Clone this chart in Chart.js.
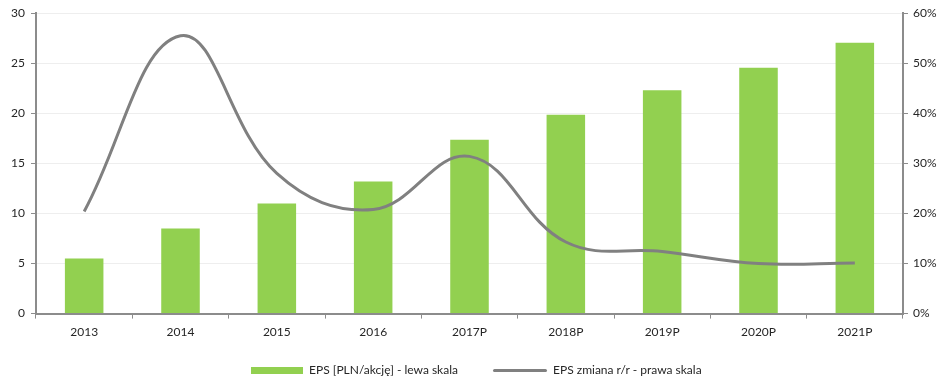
<!DOCTYPE html>
<html>
<head>
<meta charset="utf-8">
<script src="https://cdn.jsdelivr.net/npm/chart.js@4.4.1/dist/chart.umd.min.js"></script>
<style>
  body { margin: 0; background: #fff; }
  #wrap { position: relative; width: 937px; height: 380px; }
  #legend { position: absolute; left: 0; top: 362px; width: 937px; height: 18px;
            font-family: Lato, "Open Sans", sans-serif; font-size: 12px; color: #262626; }
  .item { position: absolute; top: 0; white-space: nowrap; }
  .sw { position: absolute; }
</style>
</head>
<body>
<div id="wrap">
  <canvas id="epsChart" width="937" height="380"></canvas>
  <div id="legend"></div>
</div>
<script>
// Data
const years = ['2013', '2014', '2015', '2016', '2017P', '2018P', '2019P', '2020P', '2021P'];
const epsValues = [5.5, 8.5, 11.0, 13.2, 17.35, 19.85, 22.3, 24.55, 27.05];
const epsChange = [20.4, 55.5, 28.0, 20.8, 31.4, 14.3, 12.4, 10.0, 10.1];
const barLabel = 'EPS [PLN/akcję] - lewa skala';
const lineLabel = 'EPS zmiana r/r - prawa skala';

const green = '#92D050';
const grey = '#808080';
const axisGrey = '#8c8c8c';
const fontFamily = 'Lato, "Open Sans", sans-serif';

// Build the legend below the chart
function buildLegend() {
    const legend = document.getElementById('legend');
    legend.innerHTML =
        '<div class="sw" style="left:251px;top:5px;width:52px;height:7px;background:' + green + '"></div>' +
        '<div class="item" style="left:309px;">' + barLabel + '</div>' +
        '<div class="sw" style="left:493px;top:7px;width:54px;height:3px;border-radius:2px;background:' + grey + '"></div>' +
        '<div class="item" style="left:553px;">' + lineLabel + '</div>';
}

// Create the chart
function createChart() {
    const ctx = document.getElementById('epsChart').getContext('2d');
    return new Chart(ctx, {
        data: {
            labels: years,
            datasets: [
                {
                    type: 'line',
                    label: lineLabel,
                    data: epsChange,
                    yAxisID: 'y1',
                    borderColor: grey,
                    borderWidth: 3,
                    pointRadius: 0,
                    tension: 0.4,
                    fill: false,
                    order: 0
                },
                {
                    type: 'bar',
                    label: barLabel,
                    data: epsValues,
                    yAxisID: 'y',
                    backgroundColor: green,
                    barPercentage: 0.4,
                    categoryPercentage: 1.0,
                    order: 1
                }
            ]
        },
        options: {
            responsive: false,
            animation: false,
            layout: { padding: { top: 13, bottom: 35, left: 0, right: 0 } },
            plugins: {
                legend: { display: false },
                tooltip: { enabled: false }
            },
            scales: {
                x: {
                    offset: true,
                    grid: {
                        offset: true,
                        drawOnChartArea: false,
                        color: axisGrey,
                        tickLength: 5
                    },
                    border: { color: axisGrey, width: 2 },
                    ticks: { color: '#262626', padding: 6, maxRotation: 0, font: { family: fontFamily, size: 12 } }
                },
                y: {
                    position: 'left',
                    min: 0,
                    max: 30,
                    ticks: { stepSize: 5, color: '#262626', padding: 6, font: { family: fontFamily, size: 12 } },
                    grid: {
                        color: '#eeeeee',
                        tickColor: axisGrey,
                        tickLength: 5
                    },
                    border: { color: axisGrey, width: 2 },
                    afterFit: scale => { scale.width = 36; }
                },
                y1: {
                    position: 'right',
                    min: 0,
                    max: 60,
                    ticks: {
                        stepSize: 10,
                        color: '#262626',
                        padding: 5,
                        font: { family: fontFamily, size: 12 },
                        callback: v => v + '%'
                    },
                    grid: {
                        drawOnChartArea: false,
                        color: axisGrey,
                        tickLength: 5
                    },
                    border: { color: axisGrey, width: 2 },
                    afterFit: scale => { scale.width = 34; }
                }
            }
        }
    });
}

buildLegend();
createChart();
</script>
</body>
</html>
